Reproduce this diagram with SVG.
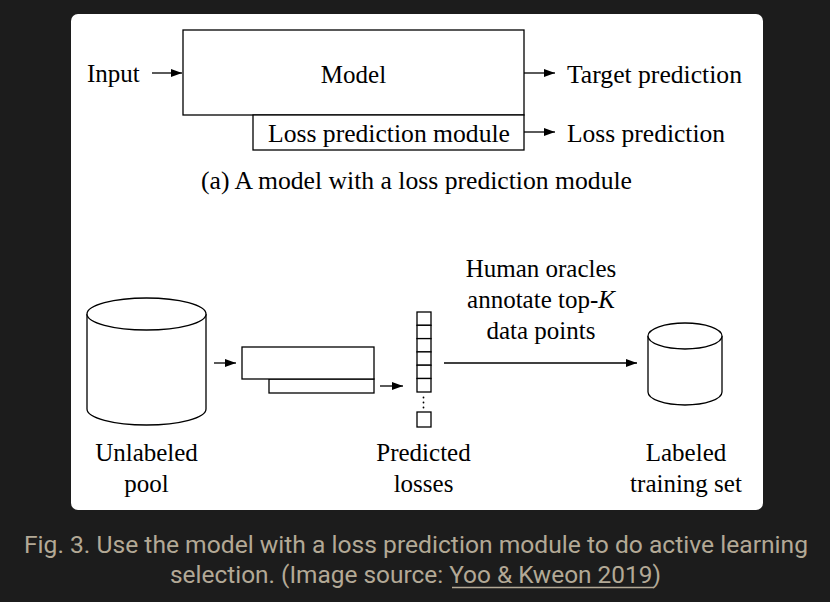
<svg xmlns="http://www.w3.org/2000/svg" width="830" height="602" viewBox="0 0 830 602">
<defs>
<marker id="ah" markerUnits="userSpaceOnUse" markerWidth="11" markerHeight="8" refX="11" refY="4" orient="auto">
<path d="M0,0 L11,4 L0,8 Z" fill="#000"/>
</marker>
<style>
.t{font-family:"Liberation Serif","Times New Roman",serif;font-size:25px;fill:#000}
.box{fill:#fff;stroke:#000;stroke-width:1.3}
.ln{stroke:#000;stroke-width:1.3;fill:none}
.arr{stroke:#000;stroke-width:1.3;fill:none;marker-end:url(#ah)}
.cap{font-family:Roboto,"Liberation Sans",sans-serif;font-size:23px;fill:#b3a996}
</style>
</defs>
<rect width="830" height="602" fill="#1c1c1c"/>
<rect x="71" y="14" width="692" height="496" rx="7" fill="#fff"/>

<g id="model">
<rect class="box" x="183" y="30" width="341" height="85"/>
<text class="t" x="353.5" y="83" text-anchor="middle">Model</text>
</g>
<g id="loss-module">
<rect class="box" x="253" y="115" width="271" height="35"/>
<text class="t" x="389" y="142" text-anchor="middle" textLength="242" lengthAdjust="spacingAndGlyphs">Loss prediction module</text>
</g>
<g id="input"><text class="t" x="87" y="82">Input</text></g>
<g id="target"><text class="t" x="567" y="83" textLength="175" lengthAdjust="spacingAndGlyphs">Target prediction</text></g>
<g id="loss-pred"><text class="t" x="567" y="142" textLength="158" lengthAdjust="spacingAndGlyphs">Loss prediction</text></g>
<g id="caption-a"><text class="t" x="416.5" y="189" text-anchor="middle" textLength="431" lengthAdjust="spacingAndGlyphs">(a) A model with a loss prediction module</text></g>

<g id="unlabeled-pool">
<path class="box" d="M87,314 L87,409 A59.5,16 0 0 0 206,409 L206,314"/>
<ellipse class="box" cx="146.5" cy="314" rx="59.5" ry="16"/>
<text class="t" x="146.5" y="461" text-anchor="middle">Unlabeled</text>
<text class="t" x="146.5" y="492" text-anchor="middle">pool</text>
</g>

<g id="model-stack">
<rect class="box" x="269" y="379" width="105" height="14"/>
<rect class="box" x="242" y="347" width="132" height="32"/>
</g>

<g id="predicted-losses">
<rect class="box" x="417" y="312" width="14" height="13.3"/>
<rect class="box" x="417" y="325.3" width="14" height="13.3"/>
<rect class="box" x="417" y="338.6" width="14" height="13.3"/>
<rect class="box" x="417" y="351.9" width="14" height="13.3"/>
<rect class="box" x="417" y="365.2" width="14" height="13.3"/>
<rect class="box" x="417" y="378.5" width="14" height="13.5"/>
<circle cx="423.5" cy="397.5" r="0.9" fill="#000"/>
<circle cx="423.5" cy="402.5" r="0.9" fill="#000"/>
<circle cx="423.5" cy="407.5" r="0.9" fill="#000"/>
<rect class="box" x="417" y="412" width="14" height="15"/>
<text class="t" x="423.5" y="461" text-anchor="middle">Predicted</text>
<text class="t" x="423.5" y="492" text-anchor="middle">losses</text>
</g>

<g id="oracle-label">
<text class="t" x="541" y="277" text-anchor="middle">Human oracles</text>
<text class="t" x="541" y="308" text-anchor="middle">annotate top-<tspan font-style="italic">K</tspan></text>
<text class="t" x="541" y="339" text-anchor="middle">data points</text>
</g>

<g id="labeled-set">
<path class="box" d="M648,336 L648,392 A37,13 0 0 0 722,392 L722,336"/>
<ellipse class="box" cx="685" cy="336" rx="37" ry="13"/>
<text class="t" x="686" y="461" text-anchor="middle">Labeled</text>
<text class="t" x="686" y="492" text-anchor="middle">training set</text>
</g>

<g id="connectors">
<line class="arr" x1="152" y1="73" x2="182" y2="73"/>
<line class="arr" x1="524" y1="73" x2="555" y2="73"/>
<line class="arr" x1="524" y1="132" x2="555" y2="132"/>
<line class="arr" x1="214" y1="363" x2="236" y2="363"/>
<line class="arr" x1="380" y1="386" x2="403" y2="386"/>
<line class="arr" x1="444" y1="363" x2="637" y2="363"/>
</g>

<g id="figure-caption">
<text class="cap" x="416" y="553" text-anchor="middle" textLength="784" lengthAdjust="spacingAndGlyphs">Fig. 3. Use the model with a loss prediction module to do active learning</text>
<text class="cap" x="415.5" y="583" text-anchor="middle" textLength="491" lengthAdjust="spacingAndGlyphs">selection. (Image source: Yoo &amp; Kweon 2019)</text>
<line x1="452" y1="587.5" x2="654" y2="587.5" stroke="#b3a996" stroke-width="1.3"/>
</g>
</svg>
